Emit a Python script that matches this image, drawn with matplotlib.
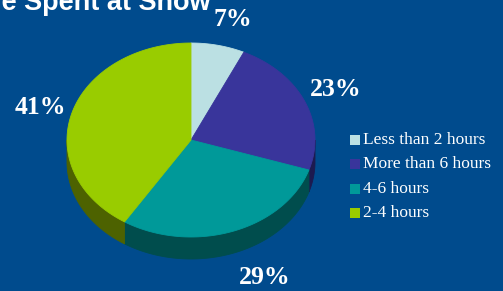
import numpy as np
import matplotlib.pyplot as plt

# data
categories = ['Less than 2 hours', 'More than 6 hours', '4-6 hours', '2-4 hours']
shares = [7, 23, 29, 41]
pct_labels = ['7%', '23%', '29%', '41%']
title = 'Time Spent at Show'

top_colors = ['#bbe0e3', '#39359b', '#009999', '#99cc00']
side_colors = ['#7fa3a6', '#1d1a50', '#004d4d', '#4d6200']
bg = '#004b8d'

# geometry in pixels (y grows downward)
cx, cy = 191, 140
rx, ry = 124, 97
depth = 22


def ellipse_pts(t0, t1, dy=0.0, n=120):
    t = np.radians(np.linspace(t0, t1, n))
    return cx + rx * np.cos(t), cy - ry * np.sin(t) + dy


fig = plt.figure(figsize=(5.03, 2.91), dpi=100)
fig.patch.set_facecolor(bg)
ax = fig.add_axes([0, 0, 1, 1])
ax.set_facecolor(bg)
ax.set_xlim(0, 503)
ax.set_ylim(291, 0)
ax.axis('off')

frac = np.array(shares, dtype=float) / sum(shares)
cum = np.concatenate([[0], np.cumsum(frac)])
starts = 90 - cum[:-1] * 360
ends = 90 - cum[1:] * 360

# side walls (front half only, angles between -180 and 0)
for s, e, col in zip(starts, ends, side_colors):
    lo, hi = max(e, -180), min(s, 0)
    if hi <= lo:
        continue
    xt, yt = ellipse_pts(lo, hi)
    xb, yb = ellipse_pts(hi, lo, dy=depth)
    ax.fill(np.concatenate([xt, xb]), np.concatenate([yt, yb]),
            color=col, lw=0.6, ec=col)

# top face
for s, e, col in zip(starts, ends, top_colors):
    xs, ys = ellipse_pts(s, e)
    ax.fill(np.concatenate([[cx], xs]), np.concatenate([[cy], ys]),
            color=col, lw=0.6, ec=col)

# percentage labels
label_pos = [(233, 20), (336, 90), (265, 277), (40, 108)]
for txt, (x, y) in zip(pct_labels, label_pos):
    ax.text(x, y, txt, color='white', fontsize=18.5, fontweight='bold',
            family='Liberation Serif', ha='center', va='center')

# legend
leg_y = [140, 164, 189, 213]
for name, col, y in zip(categories, top_colors, leg_y):
    ax.scatter([355], [y], marker='s', s=48, color=col, lw=0)
    ax.text(363, y, name, color='white', fontsize=12.5,
            family='Liberation Serif', ha='left', va='center')

# title, clipped at the top of the image
ax.text(211, 10, title, color='white', fontsize=19.5, fontweight='bold',
        family='Liberation Sans', ha='right', va='baseline')

fig.savefig('out.png', dpi=100, facecolor=bg)
